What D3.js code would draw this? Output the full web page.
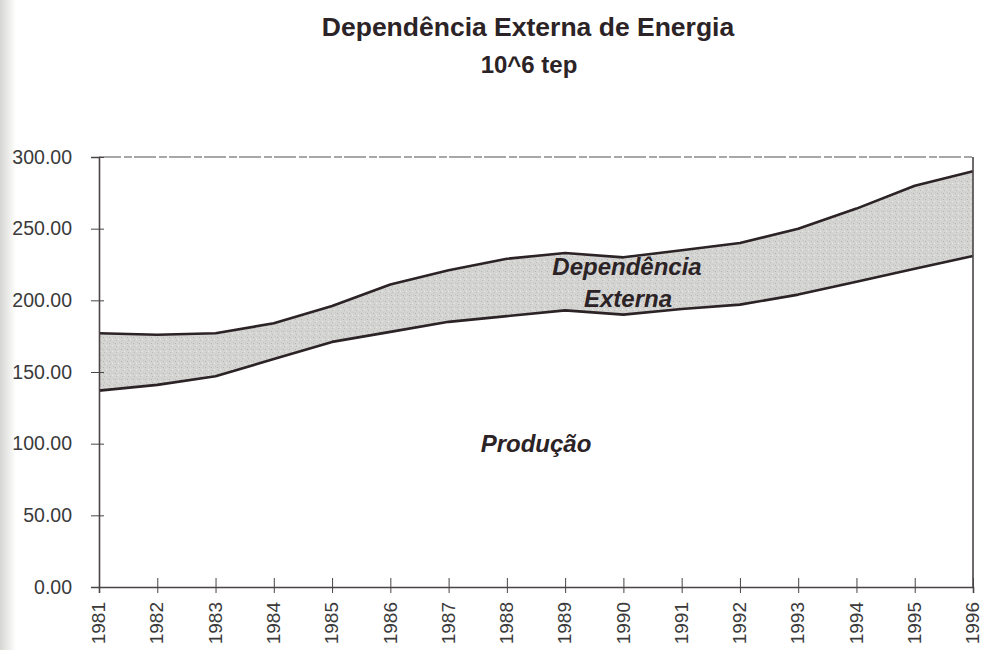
<!DOCTYPE html>
<html>
<head>
<meta charset="utf-8">
<script src="https://cdn.jsdelivr.net/npm/d3@7/dist/d3.min.js"></script>
<style>
  body { margin: 0; background: #fff; }
  svg { font-family: Arial, "Liberation Sans", sans-serif; }
</style>
</head>
<body>
<div id="chart"></div>
<script>
const years = [1981, 1982, 1983, 1984, 1985, 1986, 1987, 1988, 1989, 1990, 1991, 1992, 1993, 1994, 1995, 1996];
// consumo total (topo da faixa) e produção (base da faixa), 10^6 tep
const consumo = [177, 176, 177, 184, 196, 211, 221, 229, 233, 230, 235, 240, 250, 264, 280, 290];
const producao = [137, 141, 147, 159, 171, 178, 185, 189, 193, 190, 194, 197, 204, 213, 222, 231];
const yTicks = [0, 50, 100, 150, 200, 250, 300];

const width = 984;
const height = 650;
const margin = {top: 157, right: 10, bottom: 63, left: 99};
const ink = '#2b2326';

const svg = d3.select('#chart').append('svg')
    .attr('width', width)
    .attr('height', height);

// sombra da digitalização na borda esquerda
const defs = svg.append('defs');
const grad = defs.append('linearGradient').attr('id', 'shade');
grad.append('stop').attr('offset', '0%').attr('stop-color', '#d6d6d2');
grad.append('stop').attr('offset', '100%').attr('stop-color', '#ffffff');
svg.append('rect')
    .attr('width', 16).attr('height', height)
    .attr('fill', 'url(#shade)');

// textura da faixa
const pat = defs.append('pattern')
    .attr('id', 'grain')
    .attr('width', 6).attr('height', 6)
    .attr('patternUnits', 'userSpaceOnUse');
pat.append('rect').attr('width', 6).attr('height', 6).attr('fill', '#d4d4d2');
pat.append('rect').attr('x', 1).attr('y', 1).attr('width', 1).attr('height', 1).attr('fill', '#b4b4b2');
pat.append('rect').attr('x', 4).attr('y', 3).attr('width', 1).attr('height', 1).attr('fill', '#ececea');
pat.append('rect').attr('x', 2).attr('y', 4).attr('width', 1).attr('height', 1).attr('fill', '#bbbbb9');
pat.append('rect').attr('x', 5).attr('y', 0).attr('width', 1).attr('height', 1).attr('fill', '#c4c4c2');

const x = d3.scaleLinear()
    .domain([1981, 1996])
    .range([margin.left, width - margin.right - 1]);
const y = d3.scaleLinear()
    .domain([0, 300])
    .range([height - margin.bottom, margin.top]);

const data = years.map((yr, i) => ({year: yr, top: consumo[i], base: producao[i]}));

// títulos
svg.append('text')
    .attr('x', 528).attr('y', 36)
    .attr('text-anchor', 'middle')
    .style('font-size', '26.5px').style('font-weight', 'bold')
    .attr('fill', ink)
    .text('Dependência Externa de Energia');
svg.append('text')
    .attr('x', 529).attr('y', 73)
    .attr('text-anchor', 'middle')
    .style('font-size', '24px').style('font-weight', 'bold')
    .attr('fill', ink)
    .text('10^6 tep');

// faixa de dependência externa
svg.append('path')
    .datum(data)
    .attr('fill', 'url(#grain)')
    .attr('d', d3.area()
        .x(d => x(d.year))
        .y0(d => y(d.base))
        .y1(d => y(d.top)));

const line = key => d3.line().x(d => x(d.year)).y(d => y(d[key]));
['top', 'base'].forEach(k => {
    svg.append('path')
        .datum(data)
        .attr('fill', 'none')
        .attr('stroke', ink)
        .attr('stroke-width', 2.6)
        .attr('stroke-linejoin', 'round')
        .attr('d', line(k));
});

// moldura: topo claro, direita escura
svg.append('line')
    .attr('x1', x(1981)).attr('x2', x(1996))
    .attr('y1', y(300)).attr('y2', y(300))
    .attr('stroke', '#8a8a8a').attr('stroke-width', 1.3)
    .attr('stroke-dasharray', '22,3,8,2');
svg.append('line')
    .attr('x1', x(1996)).attr('x2', x(1996))
    .attr('y1', y(300)).attr('y2', y(0))
    .attr('stroke', '#4a4446').attr('stroke-width', 1.6);

// eixo Y
const yAxis = svg.append('g')
    .attr('transform', `translate(${margin.left},0)`)
    .call(d3.axisLeft(y).tickValues(yTicks).tickFormat(d3.format('.2f')).tickSize(8).tickPadding(19));
yAxis.select('.domain').attr('stroke', '#4a4446').attr('stroke-width', 1.6);
yAxis.selectAll('.tick line').attr('stroke', '#4a4446').attr('x2', 5).attr('x1', -8);
yAxis.selectAll('.tick text')
    .style('font-size', '19.5px').style('font-family', 'Arial, "Liberation Sans", sans-serif')
    .attr('fill', '#3a3a3a')
    .attr('x', -27);

// eixo X
const xAxis = svg.append('g')
    .attr('transform', `translate(0,${y(0)})`)
    .call(d3.axisBottom(x).tickValues(years).tickFormat(d3.format('d')).tickSize(6));
xAxis.select('.domain').attr('stroke', '#4a4446').attr('stroke-width', 1.6);
xAxis.selectAll('.tick line').attr('stroke', '#4a4446').attr('y1', -9).attr('y2', 6);
xAxis.selectAll('.tick text')
    .style('font-size', '19px').style('font-family', 'Arial, "Liberation Sans", sans-serif')
    .attr('fill', '#3a3a3a')
    .attr('transform', 'rotate(-90)')
    .attr('text-anchor', 'end')
    .attr('dy', '0.3em')
    .attr('x', -15)
    .attr('y', 0);

// rótulos internos
const lab = (tx, px, py) => svg.append('text')
    .attr('x', px).attr('y', py)
    .attr('text-anchor', 'middle')
    .style('font-size', '24px').style('font-weight', 'bold').style('font-style', 'italic')
    .attr('fill', ink)
    .text(tx);
lab('Dependência', 627, 275);
lab('Externa', 628, 307);
lab('Produção', 536, 452);
</script>
</body>
</html>
